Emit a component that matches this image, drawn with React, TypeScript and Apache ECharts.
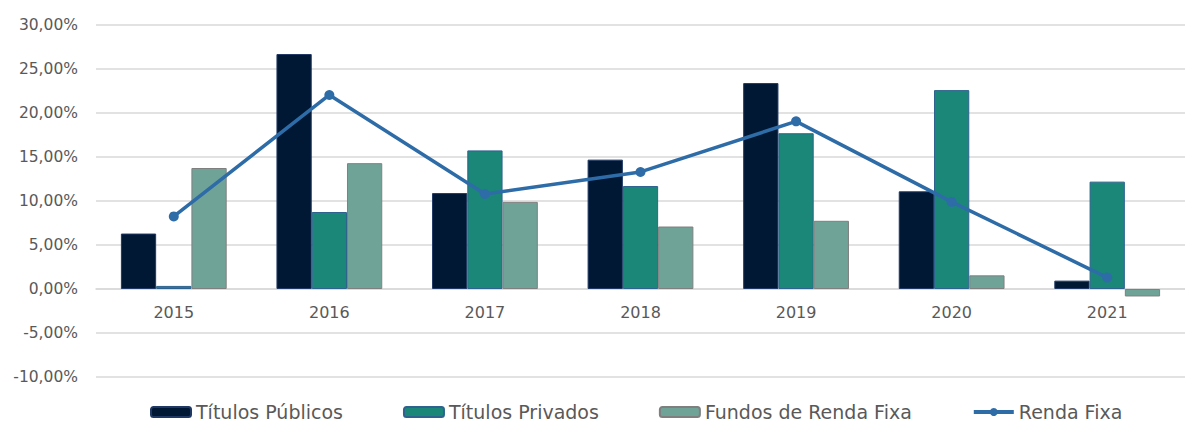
import React, { useEffect, useRef } from "react";
import * as echarts from "echarts";

const categories = ["2015", "2016", "2017", "2018", "2019", "2020", "2021"];
const titulosPublicos = [6.3, 26.7, 10.9, 14.7, 23.4, 11.1, 0.95];
const titulosPrivados = [0.35, 8.75, 15.75, 11.7, 17.7, 22.6, 12.2];
const fundosRendaFixa = [13.75, 14.3, 9.9, 7.1, 7.75, 1.55, -0.85];
const rendaFixa = [8.25, 22.05, 10.8, 13.3, 19.05, 9.9, 1.3];

const FONT = "DejaVu Sans";

export default function App() {
  const ref = useRef<HTMLDivElement>(null);
  useEffect(() => {
    if (!ref.current) return;
    const chart = echarts.init(ref.current, undefined, { renderer: "svg" });
    chart.setOption({
      animation: false,
      backgroundColor: "#ffffff",
      grid: { left: 96, right: -11, top: 25, bottom: 48, containLabel: false },
      legend: {
        left: 150,
        top: 402,
        padding: 0,
        itemWidth: 40,
        itemHeight: 10,
        itemGap: 60,
        textStyle: { fontFamily: FONT, fontSize: 19, lineHeight: 20, color: "#595959" },
        data: [
          "Títulos Públicos",
          "Títulos Privados",
          "Fundos de Renda Fixa",
          { name: "Renda Fixa", lineStyle: { width: 4, color: "#2e6ca8" }, itemStyle: { color: "#2e6ca8" } },
        ],
      },
      xAxis: {
        type: "category",
        data: categories,
        offset: -88,
        axisLine: { onZero: false, lineStyle: { color: "#d9d9d9", width: 1.5 } },
        axisTick: { show: false },
        axisLabel: { fontFamily: FONT, fontSize: 16, color: "#595959", margin: 15 },
      },
      yAxis: {
        type: "value",
        min: -10,
        max: 30,
        interval: 5,
        axisLine: { show: false },
        axisTick: { show: false },
        splitLine: { lineStyle: { color: "#d9d9d9", width: 1.5 } },
        axisLabel: {
          fontFamily: FONT,
          fontSize: 15.5,
          color: "#595959",
          margin: 18,
          formatter: (v: number) => v.toFixed(2).replace(".", ",") + "%",
        },
      },
      series: [
        {
          name: "Títulos Públicos",
          type: "bar",
          data: titulosPublicos,
          barGap: "0%",
          barCategoryGap: "32%",
          itemStyle: { color: "#001833", borderColor: "#1f3864", borderWidth: 1 },
        },
        {
          name: "Títulos Privados",
          type: "bar",
          data: titulosPrivados,
          itemStyle: { color: "#1a8779", borderColor: "#2f628f", borderWidth: 1 },
        },
        {
          name: "Fundos de Renda Fixa",
          type: "bar",
          data: fundosRendaFixa,
          itemStyle: { color: "#6fa398", borderColor: "#7f7f7f", borderWidth: 1 },
        },
        {
          name: "Renda Fixa",
          type: "line",
          data: rendaFixa,
          z: 5,
          symbol: "circle",
          symbolSize: 10,
          lineStyle: { color: "#2e6ca8", width: 3.5 },
          itemStyle: { color: "#2e6ca8" },
        },
      ],
    });
    return () => chart.dispose();
  }, []);
  return (
    <div
      ref={ref}
      style={{ position: "absolute", left: 0, top: 0, width: 1185, height: 425 }}
    />
  );
}
